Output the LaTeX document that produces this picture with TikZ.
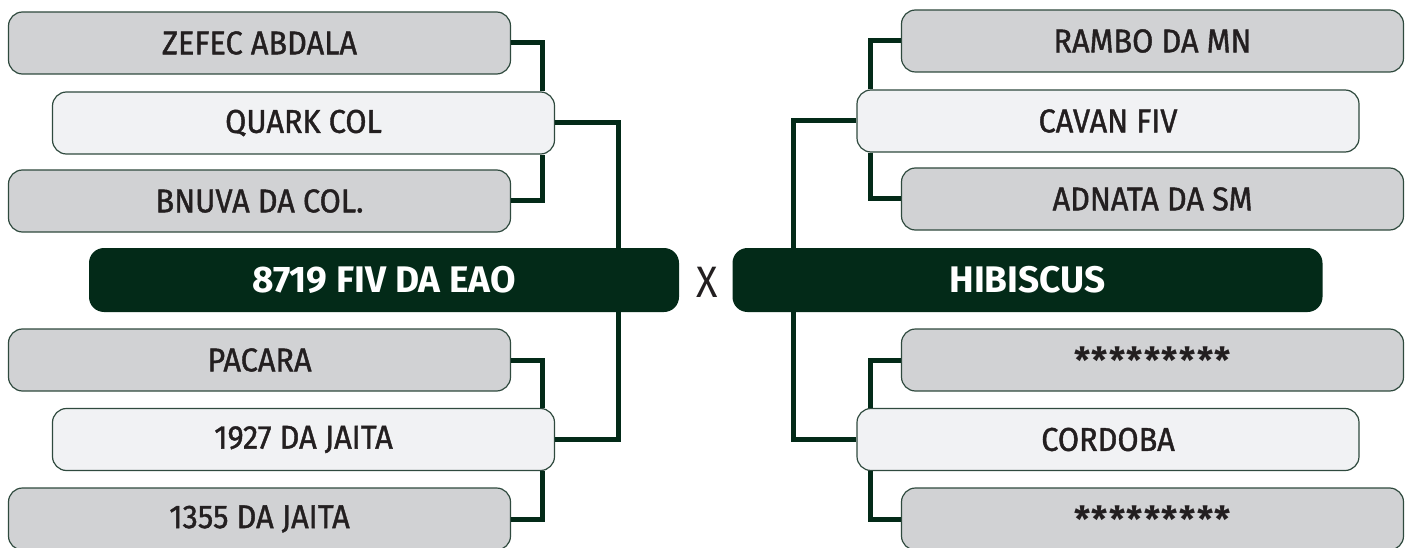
\documentclass[tikz,border=0pt]{standalone}
\usepackage{fontspec}
\setmainfont{Fira Sans}[FakeStretch=0.93,FakeBold=1.2]
\newfontfamily\titlefont{Fira Sans}[FakeStretch=1.0]
\newfontfamily\xfont{Fira Sans}[FakeStretch=0.9]
\newfontfamily\starfnt{Fira Sans}[LetterSpace=3]
\definecolor{dkgreen}{HTML}{032A18}
\definecolor{boxgray}{HTML}{D1D2D4}
\definecolor{boxlight}{HTML}{F1F2F4}
\definecolor{edgecol}{HTML}{2F4A3E}
\definecolor{txt}{HTML}{231F20}
\begin{document}
\begin{tikzpicture}[x=1pt,y=-1pt,
  namebox/.style={draw=edgecol, line width=1.2pt, rounded corners=14pt,
    minimum width=502pt, minimum height=62pt, inner sep=0pt,
    text=txt, font=\fontsize{33}{36}\selectfont},
  graybox/.style={namebox, fill=boxgray},
  lightbox/.style={namebox, fill=boxlight},
  starfont/.style={font=\starfnt\fontsize{36}{38}\selectfont\bfseries},
  titlebox/.style={fill=dkgreen, rounded corners=15pt, minimum width=590pt,
    minimum height=64pt, inner sep=0pt, text=white,
    font=\titlefont\fontsize{37}{40}\selectfont\bfseries},
  conn/.style={draw=dkgreen, line width=5pt, line join=miter}]
\useasboundingbox (0,0) rectangle (1413,548);
% left
\node[graybox]  (zefec)  at (259.5,43) {ZEFEC ABDALA};
\node[lightbox] (quark)  at (303.5,123) {QUARK COL};
\node[graybox]  (bnuva)  at (259.5,201) {BNUVA DA COL.};
\node[titlebox] (eao)    at (384,280) {8719 FIV DA EAO};
\node[graybox]  (pacara) at (259.5,360) {PACARA};
\node[lightbox] (j1927)  at (303.5,439.5) {1927 DA JAITA};
\node[graybox]  (j1355)  at (259.5,519) {1355 DA JAITA};
% middle
\node[text=txt, font=\xfont\fontsize{44}{46}\selectfont, inner sep=0pt] (vs) at (707,282) {X};
% right
\node[graybox]  (rambo)  at (1152.5,41) {RAMBO DA MN};
\node[lightbox] (cavan)  at (1108,121) {CAVAN FIV};
\node[graybox]  (adnata) at (1152.5,199) {ADNATA DA SM};
\node[titlebox] (hib)    at (1027.5,280) {HIBISCUS};
\node[graybox, starfont]  (star1)  at (1152.5,360) {\raisebox{-4pt}{*********}};
\node[lightbox] (cordoba) at (1108,439.5) {CORDOBA};
\node[graybox, starfont]  (star2)  at (1152.5,519) {\raisebox{-4pt}{*********}};
% connector columns
\coordinate (xl) at (542,0);
\coordinate (xL) at (618,0);
\coordinate (xr) at (870,0);
\coordinate (xR) at (793,0);
% left connectors
\draw[conn] (zefec.east) -| (quark.north -| xl);
\draw[conn] (quark.south -| xl) |- (bnuva.east);
\draw[conn] (quark.east) -| (eao.north -| xL);
\draw[conn] (eao.south -| xL) |- (j1927.east);
\draw[conn] (pacara.east) -| (j1927.north -| xl);
\draw[conn] (j1927.south -| xl) |- (j1355.east);
% right connectors
\draw[conn] (rambo.west) -| (cavan.north -| xr);
\draw[conn] (cavan.south -| xr) |- (adnata.west);
\draw[conn] (cavan.west) -| (hib.north -| xR);
\draw[conn] (hib.south -| xR) |- (cordoba.west);
\draw[conn] (star1.west) -| (cordoba.north -| xr);
\draw[conn] (cordoba.south -| xr) |- (star2.west);
\end{tikzpicture}
\end{document}
